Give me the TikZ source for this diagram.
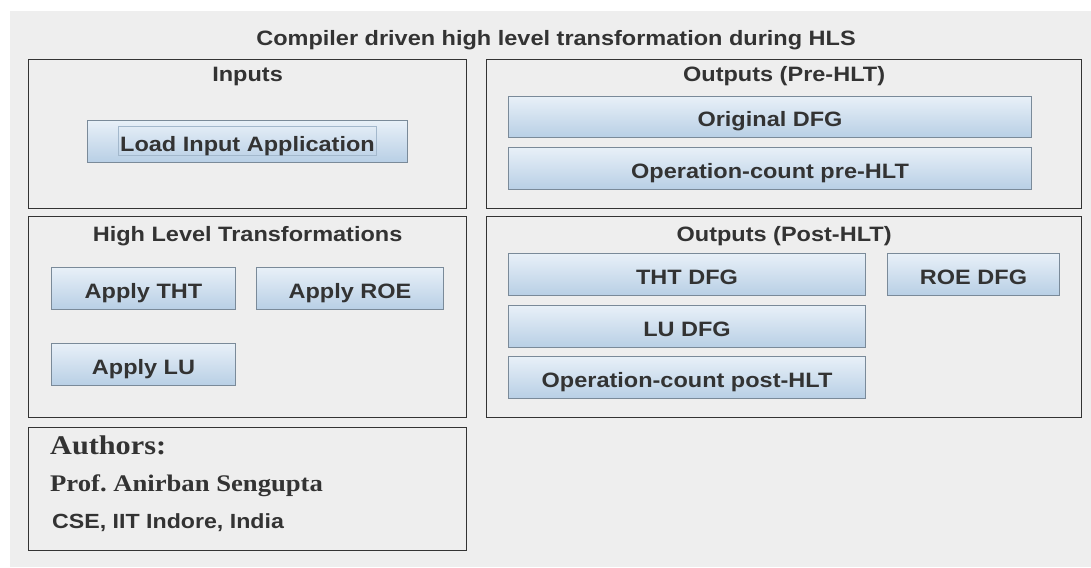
\documentclass[tikz,border=0pt]{standalone}
\usepackage{fontspec}
\setmainfont{Liberation Serif}
\setsansfont{Liberation Sans}
\newfontfamily\guifont{Liberation Sans}[FakeStretch=1.13]
\newfontfamily\authorfont{Liberation Serif}[FakeStretch=1.12]
\usepackage{tikz}
\usetikzlibrary{calc}
\frenchspacing
\definecolor{color_win_bg}{HTML}{EEEEEE}
\definecolor{color_panel_border}{HTML}{333333}
\definecolor{color_text}{HTML}{333333}
\definecolor{color_btn_top}{HTML}{E8F0F8}
\definecolor{color_btn_bottom}{HTML}{B8CFE5}
\definecolor{color_btn_border}{HTML}{7A8A99}
\definecolor{color_btn_focus}{HTML}{A3B8CC}
\def\guifontsize{\fontsize{20.8}{24}\selectfont}
\def\panelwidth{438}
\def\outpanelwidth{595}

\tikzset{
    panel/.style={draw=color_panel_border, line width=1.2pt, anchor=north west, inner sep=0pt},
    paneltitle/.style={anchor=base, text=color_text, font=\guifont\bfseries\guifontsize, inner sep=0pt},
    guibutton/.style={draw=color_btn_border, line width=1pt, anchor=north west, inner sep=0pt,
        top color=color_btn_top, middle color=white, bottom color=color_btn_bottom,
        text=color_text, font=\guifont\bfseries\guifontsize, minimum height=42pt,
        text height=19pt, text depth=0pt},
}

\begin{document}
\begin{tikzpicture}[x=1pt,y=-1pt]
        \useasboundingbox (0,0) rectangle (1091,567);
        \fill[white] (0,0) rectangle (1091,567);
        \fill[color_win_bg] (10,11) rectangle (1091,567);
        % frame title
        \node[paneltitle] (title) at (556,45.5) {Compiler driven high level transformation during HLS};
        % panels
        \node[panel, minimum width=\panelwidth pt, minimum height=149pt] (inputs) at (28,59) {};
        \node[panel, minimum width=\outpanelwidth pt, minimum height=149pt] (prehlt) at (486,59) {};
        \node[panel, minimum width=\panelwidth pt, minimum height=201pt] (hlt) at (28,216) {};
        \node[panel, minimum width=\outpanelwidth pt, minimum height=201pt] (posthlt) at (486,216) {};
        \node[panel, minimum width=\panelwidth pt, minimum height=123pt] (authors) at (28,427) {};
        % panel titles
        \node[paneltitle] (inputs_t) at ($(inputs.north)+(0,23)$) {Inputs};
        \node[paneltitle] (prehlt_t) at ($(prehlt.north)+(0,23)$) {Outputs (Pre-HLT)};
        \node[paneltitle] (hlt_t) at ($(hlt.north)+(0,25)$) {High Level Transformations};
        \node[paneltitle] (posthlt_t) at ($(posthlt.north)+(0,25)$) {Outputs (Post-HLT)};
        % input button with focus ring
        \node[guibutton, minimum width=320pt] (load) at (87,120) {};
        \draw[color_btn_focus, line width=0.8pt] ($(load.center)+(-129,-15)$) rectangle ($(load.center)+(128.5,14)$);
        \node[text=color_text, font=\guifont\bfseries\guifontsize, inner sep=0pt, text height=19pt, text depth=0pt] (load_t) at (load.center) {Load Input Application};
        % pre-HLT outputs
        \node[guibutton, minimum width=523pt, minimum height=41pt] (origdfg) at (508,96) {Original DFG};
        \node[guibutton, minimum width=523pt] (opcountpre) at (508,147) {Operation-count pre-HLT};
        % transformations
        \node[guibutton, minimum width=184pt] (tht) at (51,267) {Apply THT};
        \node[guibutton, minimum width=187pt] (roe) at (256,267) {Apply ROE};
        \node[guibutton, minimum width=184pt] (lu) at (51,343) {Apply LU};
        % post-HLT outputs
        \node[guibutton, minimum width=357pt] (thtdfg) at (508,253) {THT DFG};
        \node[guibutton, minimum width=172pt] (roedfg) at (887,253) {ROE DFG};
        \node[guibutton, minimum width=357pt] (ludfg) at (508,305) {LU DFG};
        \node[guibutton, minimum width=357pt] (opcountpost) at (508,356) {Operation-count post-HLT};
        % authors
        \node[anchor=base west, text=color_text, font=\authorfont\bfseries\fontsize{27}{30}\selectfont, inner sep=0pt] (auth_head) at (50,454) {Authors:};
        \node[anchor=base west, text=color_text, font=\authorfont\bfseries\fontsize{23.8}{26}\selectfont, inner sep=0pt] (auth_name) at (50,491) {Prof. Anirban Sengupta};
        \node[anchor=base west, text=color_text, font=\guifont\bfseries\fontsize{20.5}{24}\selectfont, inner sep=0pt] (auth_inst) at (52,528) {CSE, IIT Indore, India};
    \end{tikzpicture}
\end{document}
